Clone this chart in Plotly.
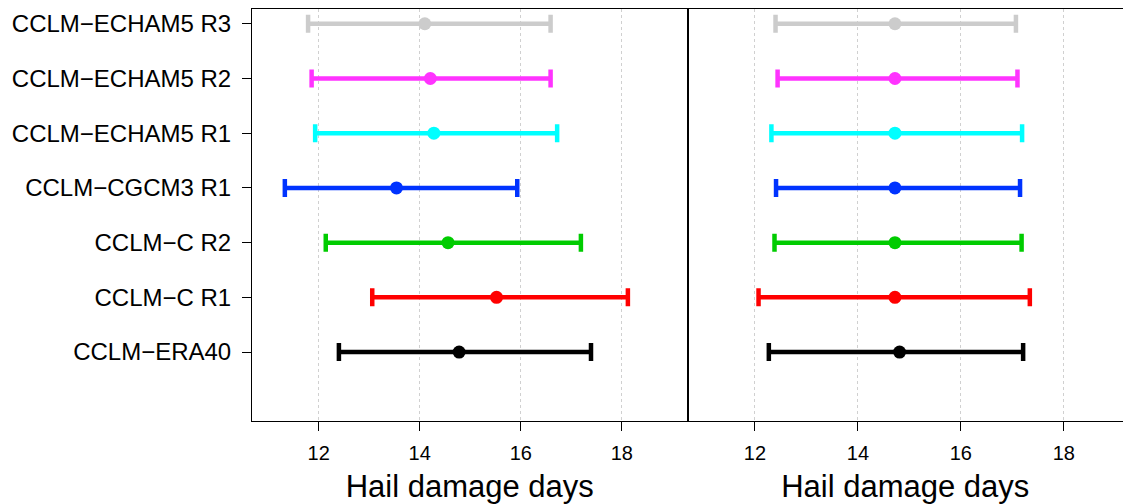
import plotly.graph_objects as go

# Categories, bottom to top
models = ["CCLM\u2212ERA40", "CCLM\u2212C R1", "CCLM\u2212C R2", "CCLM\u2212CGCM3 R1",
          "CCLM\u2212ECHAM5 R1", "CCLM\u2212ECHAM5 R2", "CCLM\u2212ECHAM5 R3"]
colors = ["#000000", "#ff0000", "#00cc00", "#0033ff", "#00ffff", "#ff33ff", "#cccccc"]

# Left panel (lower, mean, upper)
left_lo = [12.40, 13.06, 12.14, 11.33, 11.93, 11.86, 11.79]
left_mid = [14.78, 15.52, 14.56, 13.54, 14.28, 14.21, 14.10]
left_hi = [17.39, 18.12, 17.19, 15.93, 16.72, 16.59, 16.59]

# Right panel
right_lo = [12.27, 12.07, 12.38, 12.41, 12.32, 12.44, 12.40]
right_mid = [14.81, 14.72, 14.72, 14.72, 14.72, 14.72, 14.72]
right_hi = [17.21, 17.34, 17.18, 17.15, 17.19, 17.10, 17.07]

x_ticks = [12, 14, 16, 18]
ypos = list(range(1, len(models) + 1))

fig = go.Figure()

def add_panel(lo, mid, hi, xa, ya):
    for i in range(len(models)):
        fig.add_trace(go.Scatter(
            x=[mid[i]], y=[ypos[i]], mode="markers",
            marker=dict(color=colors[i], size=13),
            error_x=dict(type="data", symmetric=False,
                         array=[hi[i] - mid[i]], arrayminus=[mid[i] - lo[i]],
                         color=colors[i], thickness=4.5, width=9),
            xaxis=xa, yaxis=ya, showlegend=False, hoverinfo="skip"))

add_panel(left_lo, left_mid, left_hi, "x", "y")
add_panel(right_lo, right_mid, right_hi, "x2", "y2")

font = "Liberation Sans, Arial, Helvetica, sans-serif"
xcommon = dict(tickvals=x_ticks, ticktext=[str(t) for t in x_ticks],
               showgrid=True, gridcolor="#d0d0d0", griddash="dot", gridwidth=1,
               zeroline=False, showline=True, linecolor="black", linewidth=1, mirror=True,
               ticks="outside", ticklen=9, tickwidth=1, tickcolor="black",
               ticklabelstandoff=5,
               tickfont=dict(size=20, color="black", family=font),
               title=dict(text="Hail damage days", font=dict(size=31, color="black", family=font),
                          standoff=13))
yrange = [-0.26, 7.27]

fig.update_layout(
    width=1123, height=504,
    margin=dict(l=252, r=0, t=9, b=83),
    plot_bgcolor="white", paper_bgcolor="white",
    xaxis=dict(domain=[0, 0.5], anchor="y", range=[10.68, 19.3], **xcommon),
    xaxis2=dict(domain=[0.5, 1.0], anchor="y2", range=[10.69, 19.15], **xcommon),
    yaxis=dict(domain=[0, 1], anchor="x", range=yrange, tickvals=ypos, ticktext=models,
               showgrid=False, zeroline=False, showline=True, linecolor="black", linewidth=1,
               mirror=True, ticks="outside", ticklen=9, tickcolor="black",
               ticklabelstandoff=6,
               tickfont=dict(size=24, color="black", family=font)),
    yaxis2=dict(domain=[0, 1], anchor="x2", range=yrange, showticklabels=False,
                showgrid=False, zeroline=False, showline=True, linecolor="black", linewidth=1,
                mirror=False, ticks=""),
)

fig.write_html("out.html")
